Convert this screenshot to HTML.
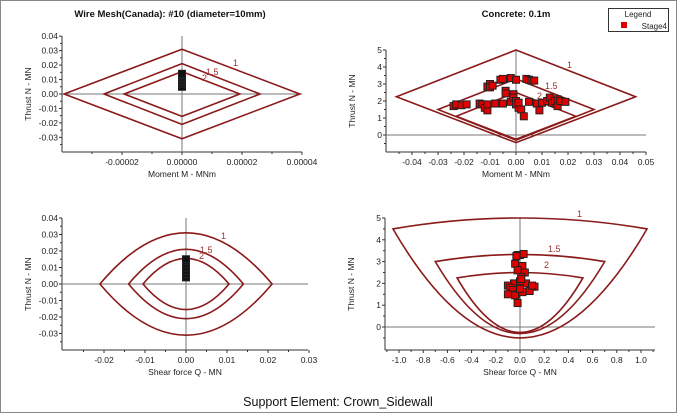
<!DOCTYPE html>
<html><head><meta charset="utf-8"><style>
html,body{margin:0;padding:0;background:#fff;}
svg{display:block;font-family:"Liberation Sans",Arial,sans-serif;}
</style></head><body>
<svg id="s" width="677" height="413" viewBox="0 0 677 413">
<rect x="0.5" y="0.5" width="676" height="412" fill="#fff" stroke="#888"/>
<text x="338" y="406" font-size="12.5" text-anchor="middle" fill="#111">Support Element: Crown_Sidewall</text>
</svg>
<script>
// ---- data ----
const p1XTicks = ["-0.00002","0.00000","0.00002","0.00004"];
const p1XTickVals = [-0.00002,0,0.00002,0.00004];
const p1YTickVals = [0.04,0.03,0.02,0.01,0,-0.01,-0.02,-0.03];
const p1YTicks = ["0.04","0.03","0.02","0.01","0.00","-0.01","-0.02","-0.03"];
const p1EnvM = [0.0000393,0.000026,0.0000193];
const p1EnvN = [0.031,0.021,0.0155];
const p1Labels = ["1","1.5","2"];
const p1PtsN = [0.005,0.007,0.008,0.009,0.010,0.011,0.012,0.013,0.014];

const p2XTickVals = [-0.04,-0.03,-0.02,-0.01,0,0.01,0.02,0.03,0.04,0.05];
const p2XTicks = ["-0.04","-0.03","-0.02","-0.01","0.00","0.01","0.02","0.03","0.04","0.05"];
const p2YTickVals = [5,4,3,2,1,0];
const p2EnvM = [0.046,0.03,0.023];
const p2EnvTop = [5,3.3,2.5];
const p2EnvSide = [2.25,1.5,1.1];
const p2EnvBot = [-0.45,-0.3,-0.25];
const p2PtsM = [-0.024,-0.023,-0.021,-0.019,-0.014,-0.013,-0.012,-0.011,-0.011,-0.011,-0.010,-0.010,-0.009,-0.008,-0.006,-0.005,-0.005,-0.004,-0.004,-0.002,-0.002,-0.001,-0.001,0,0,0,0.001,0.001,0.002,0.003,0.004,0.005,0.005,0.006,0.007,0.008,0.009,0.010,0.012,0.013,0.014,0.015,0.016,0.016,0.017,0.019];
const p2PtsN = [1.7,1.8,1.75,1.8,1.85,1.8,1.6,1.45,1.8,2.85,3.0,2.8,2.9,1.85,3.25,3.3,1.85,2.6,2.45,3.35,1.95,2.4,2.2,2.0,1.8,3.25,1.6,1.9,1.5,1.1,3.3,1.95,3.25,3.2,3.2,1.85,1.45,1.9,2.0,2.2,1.9,2.0,1.7,2.1,2.0,1.95];

const p3XTickVals = [-0.02,-0.01,0,0.01,0.02,0.03];
const p3XTicks = ["-0.02","-0.01","0.00","0.01","0.02","0.03"];
const p3EnvQ = [0.021,0.014,0.0105];
const p3EnvN = [0.031,0.021,0.0155];
const p3PtsN = [0.004,0.006,0.008,0.010,0.012,0.014,0.015];

const p4XTickVals = [-1.0,-0.8,-0.6,-0.4,-0.2,0,0.2,0.4,0.6,0.8,1.0];
const p4XTicks = ["-1.0","-0.8","-0.6","-0.4","-0.2","0.0","0.2","0.4","0.6","0.8","1.0"];
const p4EnvQ = [1.05,0.7,0.52];
const p4EnvTop = [5,3.33,2.5];
const p4EnvSide = [4.5,3.0,2.25];
const p4EnvBot = [-0.5,-0.3,-0.25];
const p4PtsQ = [-0.02,0.0,0.03,-0.03,0.02,-0.04,0.04,-0.02,0.01,-0.05,0.05,-0.1,0.1,-0.08,0.12,-0.06,0.08,-0.03,0.02,0,-0.1,0.1,-0.04,-0.02,0.0,0.01];
const p4PtsN = [3.3,3.3,3.35,3.25,2.8,2.9,2.5,2.6,2.3,2.0,2.0,1.9,1.85,1.8,1.85,1.7,1.65,1.5,1.6,2.1,1.5,1.9,1.45,1.1,1.75,2.2];

// ---- helpers ----
const svg=document.getElementById('s');const NS="http://www.w3.org/2000/svg";
function mk(t,a,parent){const e=document.createElementNS(NS,t);for(const k in a)e.setAttribute(k,a[k]);(parent||svg).appendChild(e);return e;}
const RED="#8b1a1a";
function axes(P,xv,xl,yv,yl,xt,yt,title){
  const g=mk('g',{});
  
  
  const t=mk('text',{x:P.tx,y:17,'font-size':'9.5','font-weight':'bold','text-anchor':'middle',fill:'#111'},g);
  t.textContent=title||'';
  
  
  mk('line',{x1:P.x0,y1:P.yT,x2:P.x0,y2:P.yB,stroke:'#333'},g);
  mk('line',{x1:P.x0,y1:P.yB,x2:P.x1,y2:P.yB,stroke:'#333'},g);
  mk('line',{x1:P.X(0),y1:P.yT,x2:P.X(0),y2:P.yB,stroke:'#777'},g);
  mk('line',{x1:P.x0,y1:P.Y(0),x2:P.x1,y2:P.Y(0),stroke:'#777'},g);
  // minor ticks
  const dx=xv[1]-xv[0];
  for(let v=xv[0]-dx*1.5;v<=xv[xv.length-1]+dx;v+=dx){const x=P.X(v);if(x>P.x0&&x<P.x1)mk('line',{x1:x,y1:P.yB,x2:x,y2:P.yB+2,stroke:'#333'},g);}
  const dy=yv[0]-yv[1];
  for(let v=yv[yv.length-1]-dy*1.5;v<=yv[0];v+=dy){const y=P.Y(v);if(y>P.yT&&y<P.yB)mk('line',{x1:P.x0-2,y1:y,x2:P.x0,y2:y,stroke:'#333'},g);}
  xv.forEach((v,i)=>{const x=P.X(v);mk('line',{x1:x,y1:P.yB,x2:x,y2:P.yB+3,stroke:'#333'},g);
    const e=mk('text',{x:x,y:P.yB+13,'font-size':'8.5','text-anchor':'middle',fill:'#222'},g);e.textContent=xl[i];
    
    });
  yv.forEach((v,i)=>{const y=P.Y(v);mk('line',{x1:P.x0-3,y1:y,x2:P.x0,y2:y,stroke:'#333'},g);
    const e=mk('text',{x:P.x0-4,y:y+3,'font-size':'8.5','text-anchor':'end',fill:'#222'},g);e.textContent=yl[i];
    
    });
  const a=mk('text',{x:(P.x0+P.x1)/2,y:P.yB+25,'font-size':'8.5','text-anchor':'middle',fill:'#222'},g);a.textContent=xt;
  
  
  const cy=(P.yT+P.yB)/2;const b=mk('text',{x:P.x0-31,y:cy,'font-size':'8.5','text-anchor':'middle',fill:'#222',transform:`rotate(-90 ${P.x0-31} ${cy})`},g);b.textContent=yt;
  
  
  return g;
}
function lab(g,x,y,s){const e=mk('text',{x:x,y:y,'font-size':'9',fill:'#9a3030'},g);e.textContent=s;
  
  }
function sq(g,x,y,fill){const e=mk('rect',{x:x-3.5,y:y-3.5,width:7,height:7,fill:fill,stroke:'#222','stroke-width':1},g);
  
  }

// Panel 1
const P1={name:'moment-chart-wire-mesh',x0:62,x1:302,yT:36,yB:152,tx:170};
P1.X=v=>182+v/0.00004*120;P1.Y=v=>94-v/0.01*14.45;
const g1=axes(P1,p1XTickVals,p1XTicks,p1YTickVals,p1YTicks,"Moment M - MNm","Thrust N - MN","Wire Mesh(Canada): #10 (diameter=10mm)");
p1EnvM.forEach((m,i)=>{const n=p1EnvN[i];const e=mk('polygon',{points:`${P1.X(-m)},${P1.Y(0)} ${P1.X(0)},${P1.Y(n)} ${P1.X(m)},${P1.Y(0)} ${P1.X(0)},${P1.Y(-n)}`,fill:'none',stroke:RED,'stroke-width':1.6},g1);
  
  });
lab(g1,233,66,"1");lab(g1,206,75,"1.5");lab(g1,202,81,"2");
p1PtsN.forEach(n=>sq(g1,P1.X(0),P1.Y(n),'#111'));

// Panel 2
const P2={name:'moment-chart-concrete',x0:386,x1:646,yT:50,yB:152,tx:516};
P2.X=v=>516+v/0.05*130;P2.Y=v=>135-v*17;
const g2=axes(P2,p2XTickVals,p2XTicks,p2YTickVals,p2YTickVals.map(String),"Moment M - MNm","Thrust N - MN","Concrete: 0.1m");
p2EnvM.forEach((m,i)=>{const e=mk('polygon',{points:`${P2.X(-m)},${P2.Y(p2EnvSide[i])} ${P2.X(0)},${P2.Y(p2EnvTop[i])} ${P2.X(m)},${P2.Y(p2EnvSide[i])} ${P2.X(0)},${P2.Y(p2EnvBot[i])}`,fill:'none',stroke:RED,'stroke-width':1.6},g2);
  
  });
lab(g2,567,68,"1");lab(g2,545,89,"1.5");lab(g2,537,99,"2");
p2PtsM.forEach((m,i)=>sq(g2,P2.X(m),P2.Y(p2PtsN[i]),'#e00000'));
// legend
const lg=mk('g',{});


mk('rect',{x:608.5,y:8.5,width:60,height:23,fill:'#fff',stroke:'#333'},lg);
const lt=mk('text',{x:638,y:17,'font-size':'8','text-anchor':'middle',fill:'#222'},lg);lt.textContent='Legend';
mk('rect',{x:621,y:22,width:6,height:6,fill:'#e00000'},lg);
const le=mk('text',{x:667,y:29,'font-size':'8','text-anchor':'end',fill:'#222'},lg);le.textContent='Stage4';



// Panel 3
const P3={name:'shear-chart-wire-mesh',x0:62,x1:308,yT:218,yB:350,tx:185};
P3.X=v=>186+v/0.01*41;P3.Y=v=>284-v/0.01*16.5;
const g3=axes(P3,p3XTickVals,p3XTicks,p1YTickVals,p1YTicks,"Shear force Q - MN","Thrust N - MN","");
p3EnvQ.forEach((q,i)=>{const n=p3EnvN[i];const d=`M${P3.X(-q)},${P3.Y(0)} Q${P3.X(0)},${P3.Y(2*n)} ${P3.X(q)},${P3.Y(0)} Q${P3.X(0)},${P3.Y(-2*n)} ${P3.X(-q)},${P3.Y(0)}Z`;
  const e=mk('path',{d:d,fill:'none',stroke:RED,'stroke-width':1.6},g3);
  
  });
lab(g3,221,239,"1");lab(g3,200,253,"1.5");lab(g3,199,259,"2");
p3PtsN.forEach(n=>sq(g3,P3.X(0),P3.Y(n),'#111'));

// Panel 4
const P4={name:'shear-chart-concrete',x0:385,x1:655,yT:218,yB:350,tx:520};
P4.X=v=>520+v*121;P4.Y=v=>327-v*21.8;
const g4=axes(P4,p4XTickVals,p4XTicks,p2YTickVals,p2YTickVals.map(String),"Shear force Q - MN","Thrust N - MN","");
p4EnvQ.forEach((q,i)=>{const t=p4EnvTop[i],s=p4EnvSide[i],b=p4EnvBot[i];
  const d=`M${P4.X(-q)},${P4.Y(s)} Q${P4.X(0)},${P4.Y(2*t-s)} ${P4.X(q)},${P4.Y(s)} Q${P4.X(0)},${P4.Y(2*b-s)} ${P4.X(-q)},${P4.Y(s)}Z`;
  const e=mk('path',{d:d,fill:'none',stroke:RED,'stroke-width':1.6},g4);
  
  });
lab(g4,577,217,"1");lab(g4,548,252,"1.5");lab(g4,544,268,"2");
p4PtsQ.forEach((q,i)=>sq(g4,P4.X(q),P4.Y(p4PtsN[i]),'#e00000'));
</script>
</body></html>
